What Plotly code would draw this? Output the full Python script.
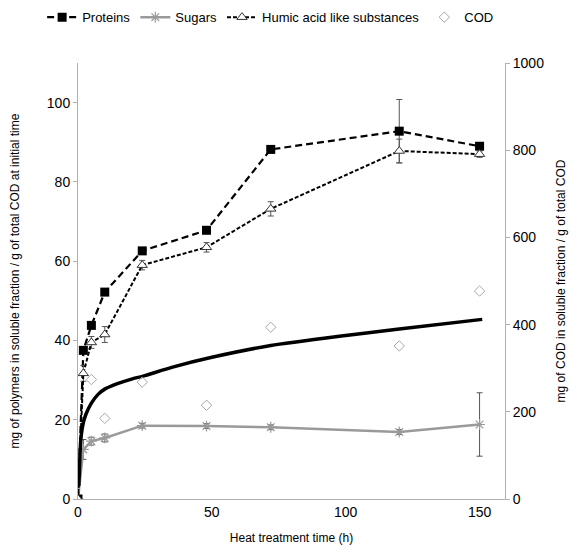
import plotly.graph_objects as go

# ---- data ----
time_h = [0, 2, 5, 10, 24, 48, 72, 120, 150]
proteins = [0, 37.5, 43.8, 52.2, 62.6, 67.8, 88.2, 92.8, 89.0]
proteins_err = [0, 0.8, 0.8, 0.8, 0.8, 0.8, 0.8, 8.0, 0.8]
sugars = [0, 12.5, 14.6, 15.4, 18.5, 18.4, 18.1, 16.9, 18.8]
sugars_err = [0, 2.5, 1.0, 1.0, 0.6, 0.6, 0.6, 0.6, 8.0]
humic = [0, 31.7, 39.5, 41.5, 59.0, 63.5, 73.2, 87.8, 87.0]
humic_err = [0, 2.0, 1.5, 2.0, 1.2, 1.2, 1.8, 3.0, 0.8]

cod_time = [5, 10, 24, 48, 72, 120, 150]
cod = [274, 185, 268, 215, 394, 351, 477]

# trend curve of COD (right axis)
trend_time = [0.3, 0.5, 0.8, 1.2, 2, 3, 5, 7.5, 10, 15, 20, 25, 35, 50, 72, 100, 120, 151]
trend_cod = [30, 60, 110, 145, 175, 195, 220, 240, 252, 265, 275, 283, 302, 325, 352, 375, 390, 412]

x_ticks = [0, 50, 100, 150]
left_ticks = [0, 20, 40, 60, 80, 100]
right_ticks = [0, 200, 400, 600, 800, 1000]

FONT = "Liberation Sans, Arial, sans-serif"
ERR = "#555555"

fig = go.Figure()

fig.add_trace(go.Scatter(
    x=trend_time, y=trend_cod, yaxis="y2", mode="lines",
    line=dict(color="black", width=3.5, shape="spline", smoothing=0.6),
    showlegend=False, hoverinfo="skip"))

fig.add_trace(go.Scatter(
    x=time_h, y=sugars, name="Sugars", mode="lines+markers", legendrank=2,
    line=dict(color="#9a9a9a", width=2.5),
    marker=dict(symbol="asterisk-open", size=9, color="#9a9a9a",
                line=dict(color="#9a9a9a", width=1.2)),
    error_y=dict(type="data", array=sugars_err, color=ERR, thickness=1, width=3)))

fig.add_trace(go.Scatter(
    x=time_h, y=proteins, name="Proteins", mode="lines+markers", legendrank=1,
    line=dict(color="black", width=2.2, dash="7px,4px"),
    marker=dict(symbol="square", size=9, color="black"),
    error_y=dict(type="data", array=proteins_err, color=ERR, thickness=1, width=3)))

fig.add_trace(go.Scatter(
    x=time_h, y=humic, name="Humic acid like substances", mode="lines+markers", legendrank=3,
    line=dict(color="black", width=2, dash="4px,2px"),
    marker=dict(symbol="triangle-up", size=9, color="white",
                line=dict(color="#333333", width=1)),
    error_y=dict(type="data", array=humic_err, color=ERR, thickness=1, width=3)))

fig.add_trace(go.Scatter(
    x=cod_time, y=cod, name="COD", yaxis="y2", mode="markers", legendrank=4,
    marker=dict(symbol="diamond-open", size=8, color="#a8a8a8",
                line=dict(color="#a8a8a8", width=1))))

fig.update_layout(
    width=574, height=549,
    margin=dict(l=70, r=77, t=55, b=58, autoexpand=False),
    paper_bgcolor="white", plot_bgcolor="white",
    font=dict(family=FONT, size=14, color="black"),
    legend=dict(orientation="h", x=-0.084, xanchor="left",
                y=1.105, yanchor="middle",
                font=dict(size=13), itemwidth=30, tracegroupgap=0,
                bgcolor="rgba(0,0,0,0)"),
    xaxis=dict(range=[0, 159.5], tickvals=x_ticks, showgrid=False, zeroline=False,
               showline=True, linecolor="#b0b0b0", linewidth=1, ticks="",
               automargin=False,
               title=dict(text="Heat treatment time (h)", font=dict(size=12), standoff=14)),
    yaxis=dict(range=[0, 110], tickvals=left_ticks, showgrid=False, zeroline=False,
               showline=True, linecolor="#b0b0b0", linewidth=1, ticks="outside",
               ticklen=4, tickcolor="#b0b0b0", automargin=False,
               title=dict(text="mg of polymers in soluble fraction / g of total COD at initial time",
                          font=dict(size=12), standoff=30)),
    yaxis2=dict(range=[0, 1000], tickvals=right_ticks, overlaying="y", side="right",
                showgrid=False, zeroline=False, showline=True, linecolor="#b0b0b0",
                linewidth=1, ticks="outside", ticklen=4, tickcolor="#b0b0b0",
                automargin=False,
                title=dict(text="mg of COD in soluble fraction / g of total COD",
                           font=dict(size=12), standoff=13)),
)

fig.write_html("out.html")
